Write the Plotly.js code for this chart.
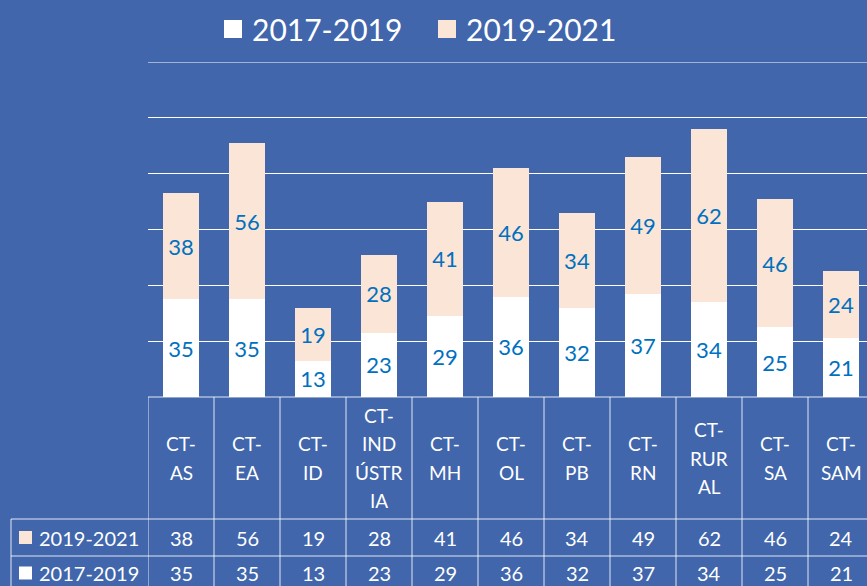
<!DOCTYPE html>
<html><head><meta charset="utf-8">
<script src="https://cdn.plot.ly/plotly-3.0.1.min.js"></script>
<style>html,body{margin:0;padding:0;overflow:hidden;background:#4166ac}</style>
</head><body><div id="chart" style="width:880px;height:586px"></div>
<script>
const categories = ['CT-AS','CT-EA','CT-ID','CT-INDÚSTRIA','CT-MH','CT-OL','CT-PB','CT-RN','CT-RURAL','CT-SA','CT-SAM'];
const headerLines = [['CT-','AS'],['CT-','EA'],['CT-','ID'],['CT-','IND','ÚSTR','IA'],['CT-','MH'],['CT-','OL'],['CT-','PB'],['CT-','RN'],['CT-','RUR','AL'],['CT-','SA'],['CT-','SAM']];
const seriesNames = ['2017-2019','2019-2021'];
const values2017 = [35,35,13,23,29,36,32,37,34,25,21];
const values2019 = [38,56,19,28,41,46,34,49,62,46,24];

const BG = '#4166ac';
const PEACH = '#fbe5d6';
const LINE = 'rgba(255,255,255,0.85)';
const FONT = 'Lato, "Open Sans", sans-serif';
const L = 148, R = 874, T = 62, B = 397;
const xp = px => (px - L) / (R - L);
const yp = py => (B - py) / (B - T);

const traces = [
  {type:'bar', name:seriesNames[0], x:categories, y:values2017, marker:{color:'#ffffff', line:{width:0}},
   text:values2017.map(String), textposition:'inside', insidetextanchor:'middle', textangle:0,
   textfont:{color:'#0070c0', size:22, family:FONT}, hoverinfo:'skip', showlegend:false},
  {type:'bar', name:seriesNames[1], x:categories, y:values2019, marker:{color:PEACH, line:{width:0}},
   text:values2019.map(String), textposition:'inside', insidetextanchor:'middle', textangle:0,
   textfont:{color:'#0070c0', size:22, family:FONT}, hoverinfo:'skip', showlegend:false}
];

const shapes = [];
const annotations = [];
// top gridline at 120
shapes.push({type:'line', xref:'paper', yref:'y', x0:0, x1:1, y0:120, y1:120, line:{color:'#ffffff', width:1}});
// vertical lines of table
for (let i = 0; i <= categories.length; i++) {
  shapes.push({type:'line', xref:'x', yref:'paper', x0:i-0.5, x1:i-0.5, y0:yp(B), y1:yp(600), line:{color:LINE, width:1}});
}
// left column vertical line
shapes.push({type:'line', xref:'paper', yref:'paper', x0:xp(11), x1:xp(11), y0:yp(519), y1:yp(600), line:{color:LINE, width:1}});
// horizontal lines
shapes.push({type:'line', xref:'paper', yref:'paper', x0:0, x1:1, y0:yp(B), y1:yp(B), line:{color:LINE, width:1}});
[519, 556].forEach(py => shapes.push({type:'line', xref:'paper', yref:'paper', x0:xp(11), x1:1, y0:yp(py), y1:yp(py), line:{color:LINE, width:1}}));

// legend (custom)
const legendItems = [{name:seriesNames[0], color:'#ffffff', sx:224}, {name:seriesNames[1], color:PEACH, sx:438}];
legendItems.forEach(it => {
  shapes.push({type:'rect', xref:'paper', yref:'paper', x0:xp(it.sx), x1:xp(it.sx+18), y0:yp(20), y1:yp(38), fillcolor:it.color, line:{width:0}});
  annotations.push({xref:'paper', yref:'paper', x:xp(it.sx+26), y:yp(29), text:it.name, showarrow:false,
    xanchor:'left', yanchor:'middle', font:{color:'#ffffff', size:30, family:FONT}});
});

// header labels
headerLines.forEach((lines, i) => {
  const n = lines.length;
  lines.forEach((t, k) => {
    annotations.push({xref:'x', yref:'paper', x:i, y:yp(458 + (k - (n-1)/2) * 28.5), text:t, showarrow:false,
      xanchor:'center', yanchor:'middle', font:{color:'#ffffff', size:19, family:FONT}});
  });
});
// value rows
const rows = [{name:seriesNames[1], vals:values2019, color:PEACH, y:537.5}, {name:seriesNames[0], vals:values2017, color:'#ffffff', y:573}];
rows.forEach(r => {
  r.vals.forEach((v, i) => annotations.push({xref:'x', yref:'paper', x:i, y:yp(r.y), text:String(v), showarrow:false,
    xanchor:'center', yanchor:'middle', font:{color:'#ffffff', size:20, family:FONT}}));
  shapes.push({type:'rect', xref:'paper', yref:'paper', x0:xp(19), x1:xp(32), y0:yp(r.y-6.5), y1:yp(r.y+6.5), fillcolor:r.color, line:{width:0}});
  annotations.push({xref:'paper', yref:'paper', x:xp(37), y:yp(r.y), text:r.name, showarrow:false,
    xanchor:'left', yanchor:'middle', font:{color:'#ffffff', size:20, family:FONT}});
});

const layout = {
  width:880, height:586,
  margin:{l:L, r:880-R, t:T, b:586-B, pad:0},
  paper_bgcolor:BG, plot_bgcolor:BG,
  barmode:'stack', bargap:0.44,
  xaxis:{showticklabels:false, ticks:'', showgrid:false, zeroline:false, showline:false, range:[-0.5, categories.length-0.5]},
  yaxis:{range:[0,120], dtick:20, showticklabels:false, ticks:'', showgrid:true, gridcolor:'#ffffff', gridwidth:1, zeroline:false, showline:false},
  showlegend:false,
  shapes:shapes, annotations:annotations,
  font:{family:FONT}
};
Plotly.newPlot('chart', traces, layout, {displayModeBar:false, staticPlot:true});
</script></body></html>
